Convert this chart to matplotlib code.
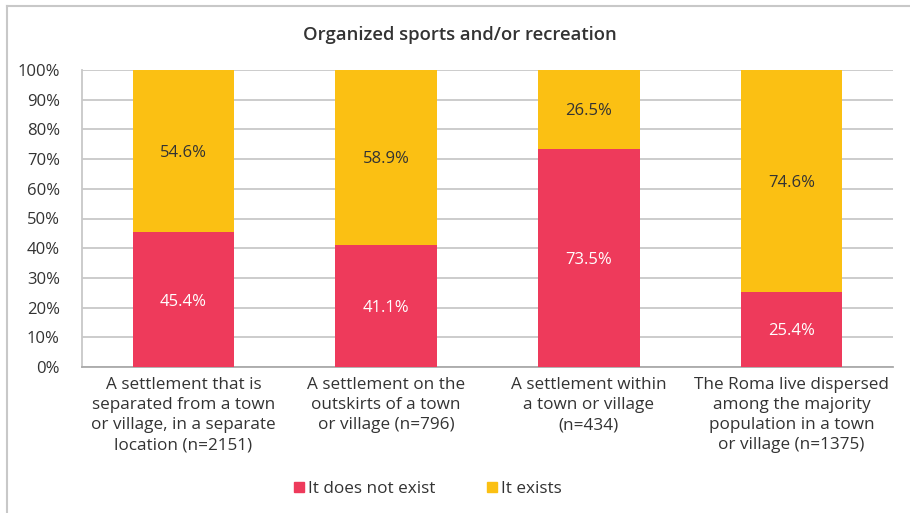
import matplotlib
matplotlib.use("Agg")
import matplotlib.pyplot as plt
from matplotlib.patches import Rectangle
from matplotlib.lines import Line2D

categories = [
    "A settlement that is\nseparated from a town\nor village, in a separate\nlocation (n=2151)",
    "A settlement on the\noutskirts of a town\nor village (n=796)",
    "A settlement within\na town or village\n(n=434)",
    "The Roma live dispersed\namong the majority\npopulation in a town\nor village (n=1375)",
]
not_exist = [45.4, 41.1, 73.5, 25.4]
exists = [54.6, 58.9, 26.5, 74.6]
series_names = ["It does not exist", "It exists"]
title = "Organized sports and/or recreation"

RED = "#EE3A5B"
YEL = "#FBC013"
TXT = "#333333"
GRID = "#C8C8C8"

plt.rcParams['font.family'] = ['Open Sans', 'DejaVu Sans']

fig = plt.figure(figsize=(9.10, 5.13), dpi=100)
ax = fig.add_axes([82/910, (513-367)/513, 811/910, 297/513])

x = list(range(len(categories)))
ax.bar(x, not_exist, width=0.5, color=RED, zorder=3, label=series_names[0])
ax.bar(x, exists, width=0.5, bottom=not_exist, color=YEL, zorder=3, label=series_names[1])

for i in x:
    ax.text(i, not_exist[i] / 2, f"{not_exist[i]:.1f}%", ha="center", va="center_baseline",
            color="white", fontsize=12, zorder=4)
    ax.text(i, not_exist[i] + exists[i] / 2, f"{exists[i]:.1f}%", ha="center", va="center_baseline",
            color=TXT, fontsize=12, zorder=4)

ax.set_xlim(-0.5, len(categories) - 0.5)
ax.set_ylim(0, 100)
ax.set_yticks(range(0, 101, 10))
ax.set_yticklabels([f"{v}%" for v in range(0, 101, 10)], fontsize=12, color=TXT)
ax.set_xticks(x)
ax.set_xticklabels(categories, fontsize=12.3, color=TXT, linespacing=1.35)
ax.tick_params(axis="both", length=0)
ax.tick_params(axis="x", pad=7)
ax.tick_params(axis="y", pad=16)
ax.yaxis.grid(True, color=GRID, linewidth=1.3, zorder=0)
for s in ["top", "right"]:
    ax.spines[s].set_visible(False)
ax.spines["left"].set_color(GRID)
ax.spines["left"].set_linewidth(1.3)
ax.spines["bottom"].set_color("#AAAAAA")
ax.spines["bottom"].set_linewidth(1.3)

fig.text(460/910, 1 - 35/513, title, ha="center", va="center", fontsize=13.3,
         fontweight="semibold", color=TXT)

handles = [Rectangle((0, 0), 1, 1, color=RED), Rectangle((0, 0), 1, 1, color=YEL)]
fig.legend(handles, series_names, loc="center", bbox_to_anchor=(428/910, 1 - 489/513),
           ncol=2, frameon=False, fontsize=12.3, handlelength=0.6, handleheight=0.6,
           handletextpad=0.25, columnspacing=3.0, labelcolor=TXT)

# figure border (top and left visible)
fig.add_artist(Line2D([7/910, 1.0], [1 - 6/513, 1 - 6/513], color="#C8C8C8", linewidth=1.5,
                      transform=fig.transFigure))
fig.add_artist(Line2D([7/910, 7/910], [0.0, 1 - 6/513], color="#C8C8C8", linewidth=1.5,
                      transform=fig.transFigure))

fig.savefig("out.png", dpi=100)
